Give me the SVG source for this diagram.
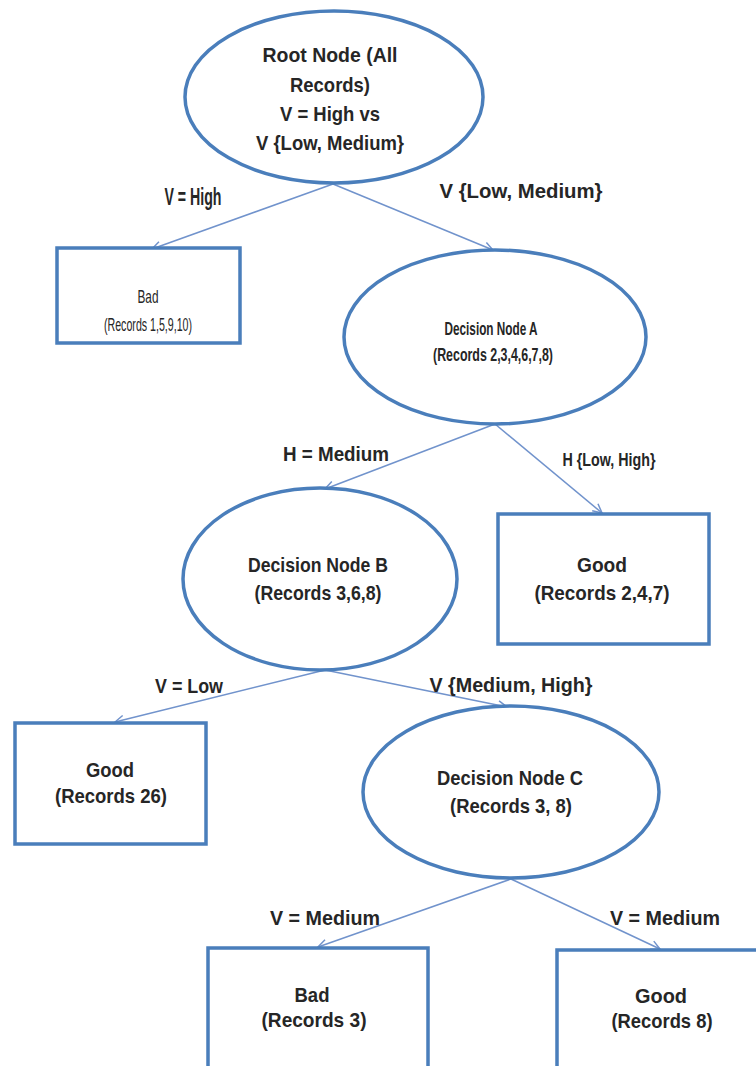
<svg xmlns="http://www.w3.org/2000/svg" width="756" height="1066" viewBox="0 0 756 1066">
<defs>
<style>
.shape{fill:#ffffff;stroke:#4a7ebb;stroke-width:3.5}
.edge{fill:none;stroke:#7193cc;stroke-width:1.5}
.t{font-family:"Liberation Sans",Arial,sans-serif;fill:#262626;text-anchor:middle;font-weight:bold}
.b{font-size:21px}
.s{font-size:19px}
.n{font-weight:normal}
</style>
<marker id="arr" markerWidth="12" markerHeight="12" refX="10" refY="6" orient="auto" markerUnits="userSpaceOnUse">
<path d="M1,1.5 L10,6 L1,10.5" fill="none" stroke="#7193cc" stroke-width="1.5"/>
</marker>
</defs>
<rect width="756" height="1066" fill="#ffffff"/>
<g id="connectors">
<line class="edge" x1="333" y1="184" x2="152" y2="249" marker-end="url(#arr)"/>
<line class="edge" x1="333" y1="184" x2="493" y2="250" marker-end="url(#arr)"/>
<line class="edge" x1="495" y1="424" x2="325" y2="489" marker-end="url(#arr)"/>
<line class="edge" x1="495" y1="424" x2="602" y2="513" marker-end="url(#arr)"/>
<line class="edge" x1="325" y1="670" x2="115" y2="722" marker-end="url(#arr)"/>
<line class="edge" x1="325" y1="670" x2="507" y2="707" marker-end="url(#arr)"/>
<line class="edge" x1="511" y1="879" x2="318" y2="947" marker-end="url(#arr)"/>
<line class="edge" x1="511" y1="879" x2="660" y2="949" marker-end="url(#arr)"/>
<text class="t" style="font-size:23px" x="193" y="205" textLength="57" lengthAdjust="spacingAndGlyphs">V = High</text>
<text class="t b" x="521" y="198" textLength="163" lengthAdjust="spacingAndGlyphs">V {Low, Medium}</text>
<text class="t b" x="336" y="461" textLength="106" lengthAdjust="spacingAndGlyphs">H = Medium</text>
<text class="t s" x="609" y="466" textLength="93" lengthAdjust="spacingAndGlyphs">H {Low, High}</text>
<text class="t b" x="189" y="693" textLength="68" lengthAdjust="spacingAndGlyphs">V = Low</text>
<text class="t b" x="511" y="692" textLength="163" lengthAdjust="spacingAndGlyphs">V {Medium, High}</text>
<text class="t b" x="325" y="925" textLength="110" lengthAdjust="spacingAndGlyphs">V = Medium</text>
<text class="t b" x="665" y="925" textLength="110" lengthAdjust="spacingAndGlyphs">V = Medium</text>
</g>
<g id="root">
<ellipse class="shape" cx="334" cy="97" rx="149" ry="86"/>
<text class="t b" x="330" y="62" textLength="135" lengthAdjust="spacingAndGlyphs">Root Node (All</text>
<text class="t b" x="330" y="92" textLength="80" lengthAdjust="spacingAndGlyphs">Records)</text>
<text class="t b" x="330" y="121" textLength="100" lengthAdjust="spacingAndGlyphs">V = High vs</text>
<text class="t b" x="330" y="150" textLength="148" lengthAdjust="spacingAndGlyphs">V {Low, Medium}</text>
</g>
<g id="bad1">
<rect class="shape" x="57" y="248" width="183" height="95"/>
<text class="t s n" x="148" y="303" textLength="21" lengthAdjust="spacingAndGlyphs">Bad</text>
<text class="t s n" x="148" y="331" textLength="88" lengthAdjust="spacingAndGlyphs">(Records 1,5,9,10)</text>
</g>
<g id="nodeA">
<ellipse class="shape" cx="495" cy="337" rx="151" ry="87"/>
<text class="t s" x="491" y="335" textLength="93" lengthAdjust="spacingAndGlyphs">Decision Node A</text>
<text class="t s" x="493" y="361" textLength="120" lengthAdjust="spacingAndGlyphs">(Records 2,3,4,6,7,8)</text>
</g>
<g id="nodeB">
<ellipse class="shape" cx="320" cy="579" rx="137" ry="91"/>
<text class="t b" x="318" y="572" textLength="140" lengthAdjust="spacingAndGlyphs">Decision Node B</text>
<text class="t b" x="318" y="600" textLength="127" lengthAdjust="spacingAndGlyphs">(Records 3,6,8)</text>
</g>
<g id="good247">
<rect class="shape" x="498" y="514" width="211" height="130"/>
<text class="t b" x="602" y="572" textLength="50" lengthAdjust="spacingAndGlyphs">Good</text>
<text class="t b" x="602" y="600" textLength="135" lengthAdjust="spacingAndGlyphs">(Records 2,4,7)</text>
</g>
<g id="good26">
<rect class="shape" x="15" y="723" width="191" height="121"/>
<text class="t b" x="110" y="777" textLength="48" lengthAdjust="spacingAndGlyphs">Good</text>
<text class="t b" x="111" y="803" textLength="112" lengthAdjust="spacingAndGlyphs">(Records 26)</text>
</g>
<g id="nodeC">
<ellipse class="shape" cx="511" cy="792" rx="148" ry="86"/>
<text class="t b" x="510" y="785" textLength="146" lengthAdjust="spacingAndGlyphs">Decision Node C</text>
<text class="t b" x="511" y="813" textLength="122" lengthAdjust="spacingAndGlyphs">(Records 3, 8)</text>
</g>
<g id="bad3">
<rect class="shape" x="208" y="948" width="220" height="130"/>
<text class="t b" x="312" y="1002" textLength="35" lengthAdjust="spacingAndGlyphs">Bad</text>
<text class="t b" x="314" y="1027" textLength="105" lengthAdjust="spacingAndGlyphs">(Records 3)</text>
</g>
<g id="good8">
<rect class="shape" x="557" y="950" width="215" height="130"/>
<text class="t b" x="661" y="1003" textLength="52" lengthAdjust="spacingAndGlyphs">Good</text>
<text class="t b" x="662" y="1028" textLength="101" lengthAdjust="spacingAndGlyphs">(Records 8)</text>
</g>
</svg>
